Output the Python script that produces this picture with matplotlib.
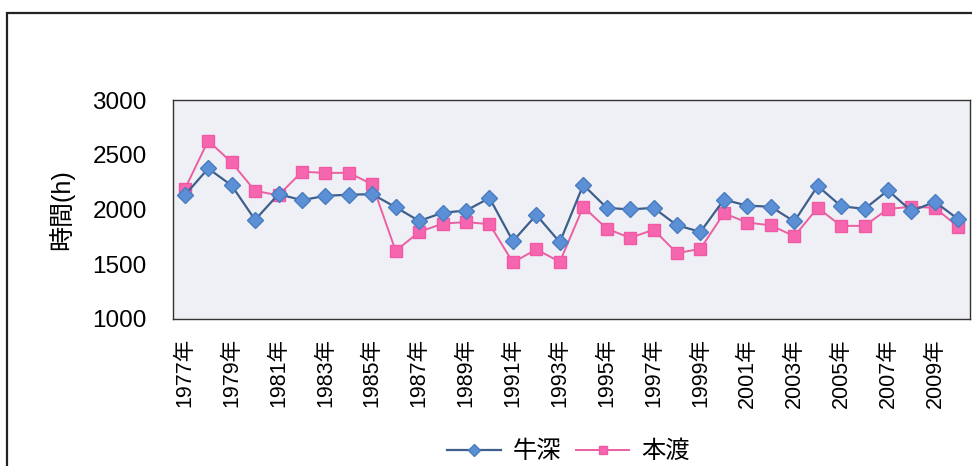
import matplotlib
matplotlib.use('Agg')
import matplotlib.pyplot as plt
from matplotlib.patches import Rectangle

# Sunshine hours per year
years = list(range(1977, 2011))
ushibuka = [2130, 2375, 2220, 1905, 2140, 2085, 2125, 2135, 2140, 2020,
            1895, 1970, 1990, 2105, 1710, 1950, 1700, 2225, 2015, 2000,
            2015, 1855, 1795, 2090, 2035, 2025, 1890, 2215, 2030, 2005,
            2175, 1985, 2070, 1910]
hondo = [2185, 2630, 2430, 2170, 2130, 2345, 2335, 2335, 2230, 1620,
         1795, 1870, 1885, 1865, 1515, 1635, 1520, 2025, 1825, 1740,
         1815, 1600, 1640, 1965, 1880, 1855, 1755, 2015, 1850, 1850,
         2005, 2025, 2015, 1840]
tick_labels = [f"{y}年" for y in years]
series_names = ["牛深", "本渡"]

plt.rcParams['font.family'] = ['Liberation Sans', 'Noto Sans CJK JP']

fig = plt.figure(figsize=(9.72, 4.66), dpi=100, facecolor='w')
ax = fig.add_axes([0.178, 0.316, 0.820, 0.469])

# outer chart frame
fig.patches.append(Rectangle((0.007, -0.05), 1.1, 0.022 + 1.0, transform=fig.transFigure,
                             fill=False, edgecolor='#222222', linewidth=1.6, zorder=0))

x = range(len(years))
ax.set_facecolor('#eef0f5')
ax.plot(x, ushibuka, color='#3e5f8c', linewidth=1.6, marker='D', markersize=8.5,
        markerfacecolor='#5b8fd6', markeredgecolor='#4a7cc0', label=series_names[0], zorder=3)
ax.plot(x, hondo, color='#ec5fa2', linewidth=1.4, marker='s', markersize=8,
        markerfacecolor='#f566ae', markeredgecolor='#f05aa5', label=series_names[1], zorder=2)

ax.set_xlim(-0.5, len(years) - 0.5)
ax.set_ylim(1000, 3000)
ax.set_yticks([1000, 1500, 2000, 2500, 3000])
ax.set_xticks(list(x)[::2])
ax.set_xticklabels(tick_labels[::2], rotation=90, fontsize=15.5)
ax.tick_params(axis='both', length=0)
ax.tick_params(axis='x', pad=14)
ax.tick_params(axis='y', pad=19, labelsize=17.5)
for s in ax.spines.values():
    s.set_linestyle((0, (2, 1)))
    s.set_color('#333333')
    s.set_linewidth(1.0)

ax.set_ylabel("時間(h)", fontsize=18, labelpad=13)

fig.legend(loc='center', bbox_to_anchor=(0.585, 0.03), ncol=2, frameon=False,
           fontsize=17.5, handlelength=2.2, handletextpad=0.5, columnspacing=0.6,
           markerscale=0.7)

plt.savefig('out.png', dpi=100)
plt.close()
